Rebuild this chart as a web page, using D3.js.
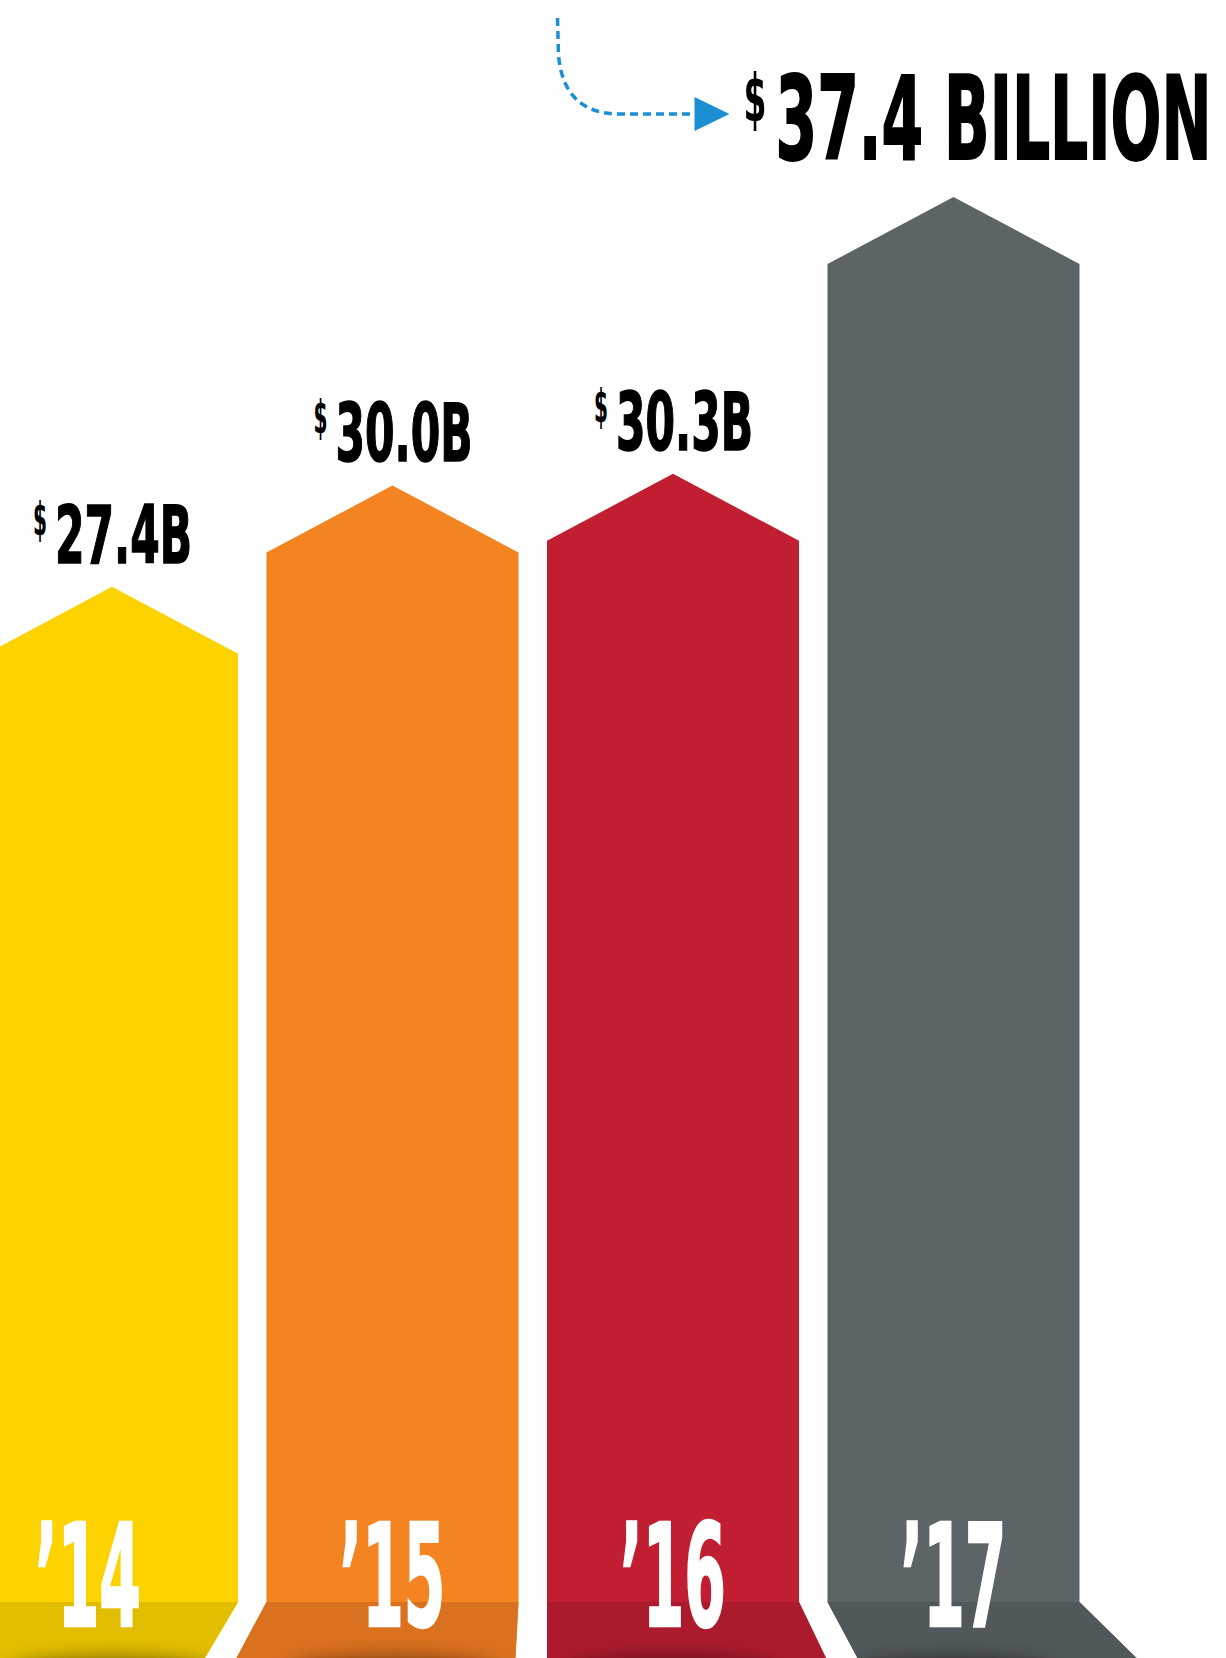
<!DOCTYPE html>
<html>
<head>
<meta charset="utf-8">
<script src="https://cdn.jsdelivr.net/npm/d3@7"></script>
<style>
  html, body { margin: 0; padding: 0; background: #fff; }
  svg { display: block; }
</style>
</head>
<body>
<div id="chart"></div>
<script>
// Chart data
const years = ['\u201914', '\u201915', '\u201916', '\u201917'];
const revenue = [27.4, 30.0, 30.3, 37.4];
const valueLabels = ['27.4B', '30.0B', '30.3B', '37.4 BILLION'];

// Palette (top colour, darker floor band colour)
const barColors = ['#FCD200', '#F48321', '#C11F31', '#5D6467'];
const floorColors = ['#E3BE00', '#DA711F', '#AB1B2D', '#51585B'];

const width = 1226;
const height = 1658;
const floorTop = 1602;      // where the perspective floor band starts
const fanCenter = 547;      // floor vanishing centre
const fanScale = 1.107;     // how much the floor spreads at the bottom edge
const tipHeight = 67;       // height of the arrow point on each bar
const font = '"DejaVu Sans Condensed", "DejaVu Sans", sans-serif';

const svg = d3.select('#chart')
    .append('svg')
    .attr('width', width)
    .attr('height', height)
    .attr('viewBox', `0 0 ${width} ${height}`);

const x = d3.scaleBand()
    .domain(years)
    .range([-14, 1079.5])
    .paddingInner(0.1016)
    .paddingOuter(0);

const y = d3.scaleLinear()
    .domain([0, d3.max(revenue)])
    .range([1655, 197]);

const data = years.map((year, i) => ({
    year,
    value: revenue[i],
    label: valueLabels[i],
    color: barColors[i],
    floor: floorColors[i],
    i
}));

const fan = v => fanCenter + (v - fanCenter) * fanScale;

// Shadow blur + clip paths for the floor bands
const defs = svg.append('defs');
defs.append('filter')
    .attr('id', 'shadowBlur')
    .attr('x', '-50%').attr('y', '-50%')
    .attr('width', '200%').attr('height', '200%')
    .append('feGaussianBlur')
    .attr('stdDeviation', 9);

const bandPath = d => {
    const x0 = x(d.year), x1 = x0 + x.bandwidth();
    return `M${x0},${floorTop}L${x1},${floorTop}L${fan(x1)},${height}L${fan(x0)},${height}Z`;
};

defs.selectAll('clipPath')
    .data(data)
    .enter()
    .append('clipPath')
    .attr('id', d => 'band' + d.i)
    .append('path')
    .attr('d', bandPath);

const bars = svg.selectAll('.bar')
    .data(data)
    .enter()
    .append('g')
    .attr('class', 'bar');

// Arrow-shaped bar body
bars.append('path')
    .attr('d', d => {
        const x0 = x(d.year), x1 = x0 + x.bandwidth();
        const cx = x0 + x.bandwidth() / 2;
        const apex = y(d.value);
        const shoulder = apex + tipHeight;
        return `M${x0},${shoulder}L${cx},${apex}L${x1},${shoulder}` +
            `L${x1},${floorTop}L${fan(x1)},${height}L${fan(x0)},${height}L${x0},${floorTop}Z`;
    })
    .style('fill', d => d.color);

// Darker floor band
bars.append('path')
    .attr('d', bandPath)
    .style('fill', d => d.floor);

// Soft shadow at the foot of each bar
bars.append('ellipse')
    .attr('clip-path', d => `url(#band${d.i})`)
    .attr('cx', d => x(d.year) + x.bandwidth() / 2)
    .attr('cy', height + 14)
    .attr('rx', 105)
    .attr('ry', 16)
    .attr('filter', 'url(#shadowBlur)')
    .style('fill', '#000')
    .style('opacity', 0.4);

// Year labels
bars.append('text')
    .attr('x', d => x(d.year) + x.bandwidth() / 2 - 53 - (d.i === 0 ? 24 : 0))
    .attr('y', 1626)
    .attr('textLength', 106)
    .attr('lengthAdjust', 'spacingAndGlyphs')
    .style('font-family', font)
    .style('font-weight', 700)
    .style('font-size', '143px')
    .style('fill', '#fff')
    .style('stroke', '#fff')
    .style('stroke-width', 2.5)
    .text(d => d.year);

// Value labels above the smaller bars
const small = bars.filter(d => d.i < 3);
small.append('text')
    .attr('x', d => x(d.year) + x.bandwidth() / 2 - 79)
    .attr('y', d => y(d.value) - 24 - 28)
    .attr('textLength', 14)
    .attr('lengthAdjust', 'spacingAndGlyphs')
    .style('font-family', font)
    .style('font-weight', 700)
    .style('font-size', '46px')
    .style('fill', '#000')
    .text('$');

small.append('text')
    .attr('x', d => x(d.year) + x.bandwidth() / 2 - 57)
    .attr('y', d => y(d.value) - 24)
    .attr('textLength', 137)
    .attr('lengthAdjust', 'spacingAndGlyphs')
    .style('font-family', font)
    .style('font-weight', 700)
    .style('font-size', '80px')
    .style('fill', '#000')
    .style('stroke', '#000')
    .style('stroke-width', 1.5)
    .text(d => d.label);

// Headline label for the last bar
const lead = bars.filter(d => d.i === 3);
const titleX = d => x(d.year) + x.bandwidth() / 2 - 178;
const titleY = d => y(d.value) - 38;

lead.append('text')
    .attr('x', d => titleX(d) - 32)
    .attr('y', d => titleY(d) - 38)
    .attr('textLength', 23)
    .attr('lengthAdjust', 'spacingAndGlyphs')
    .style('font-family', font)
    .style('font-weight', 700)
    .style('font-size', '66px')
    .style('fill', '#000')
    .text('$');

lead.append('text')
    .attr('x', titleX)
    .attr('y', titleY)
    .attr('textLength', 436)
    .attr('lengthAdjust', 'spacingAndGlyphs')
    .style('font-family', font)
    .style('font-weight', 700)
    .style('font-size', '116px')
    .style('fill', '#000')
    .style('stroke', '#000')
    .style('stroke-width', 2)
    .text(d => d.label);

// Dashed pointer arrow into the headline
lead.each(function(d) {
    const g = d3.select(this);
    const tipX = titleX(d) - 46;
    const tipY = titleY(d) - 45;
    const line = d3.path();
    line.moveTo(tipX - 172, 18);
    line.lineTo(tipX - 171, 55);
    line.quadraticCurveTo(tipX - 166, tipY, tipX - 110, tipY);
    line.lineTo(tipX - 34, tipY);
    g.append('path')
        .attr('d', line.toString())
        .style('fill', 'none')
        .style('stroke', '#1B8FD3')
        .style('stroke-width', 3.5)
        .style('stroke-dasharray', '8,5');
    g.append('path')
        .attr('d', `M${tipX - 35},${tipY - 17}L${tipX},${tipY}L${tipX - 35},${tipY + 17}Z`)
        .style('fill', '#1B8FD3');
});
</script>
</body>
</html>
